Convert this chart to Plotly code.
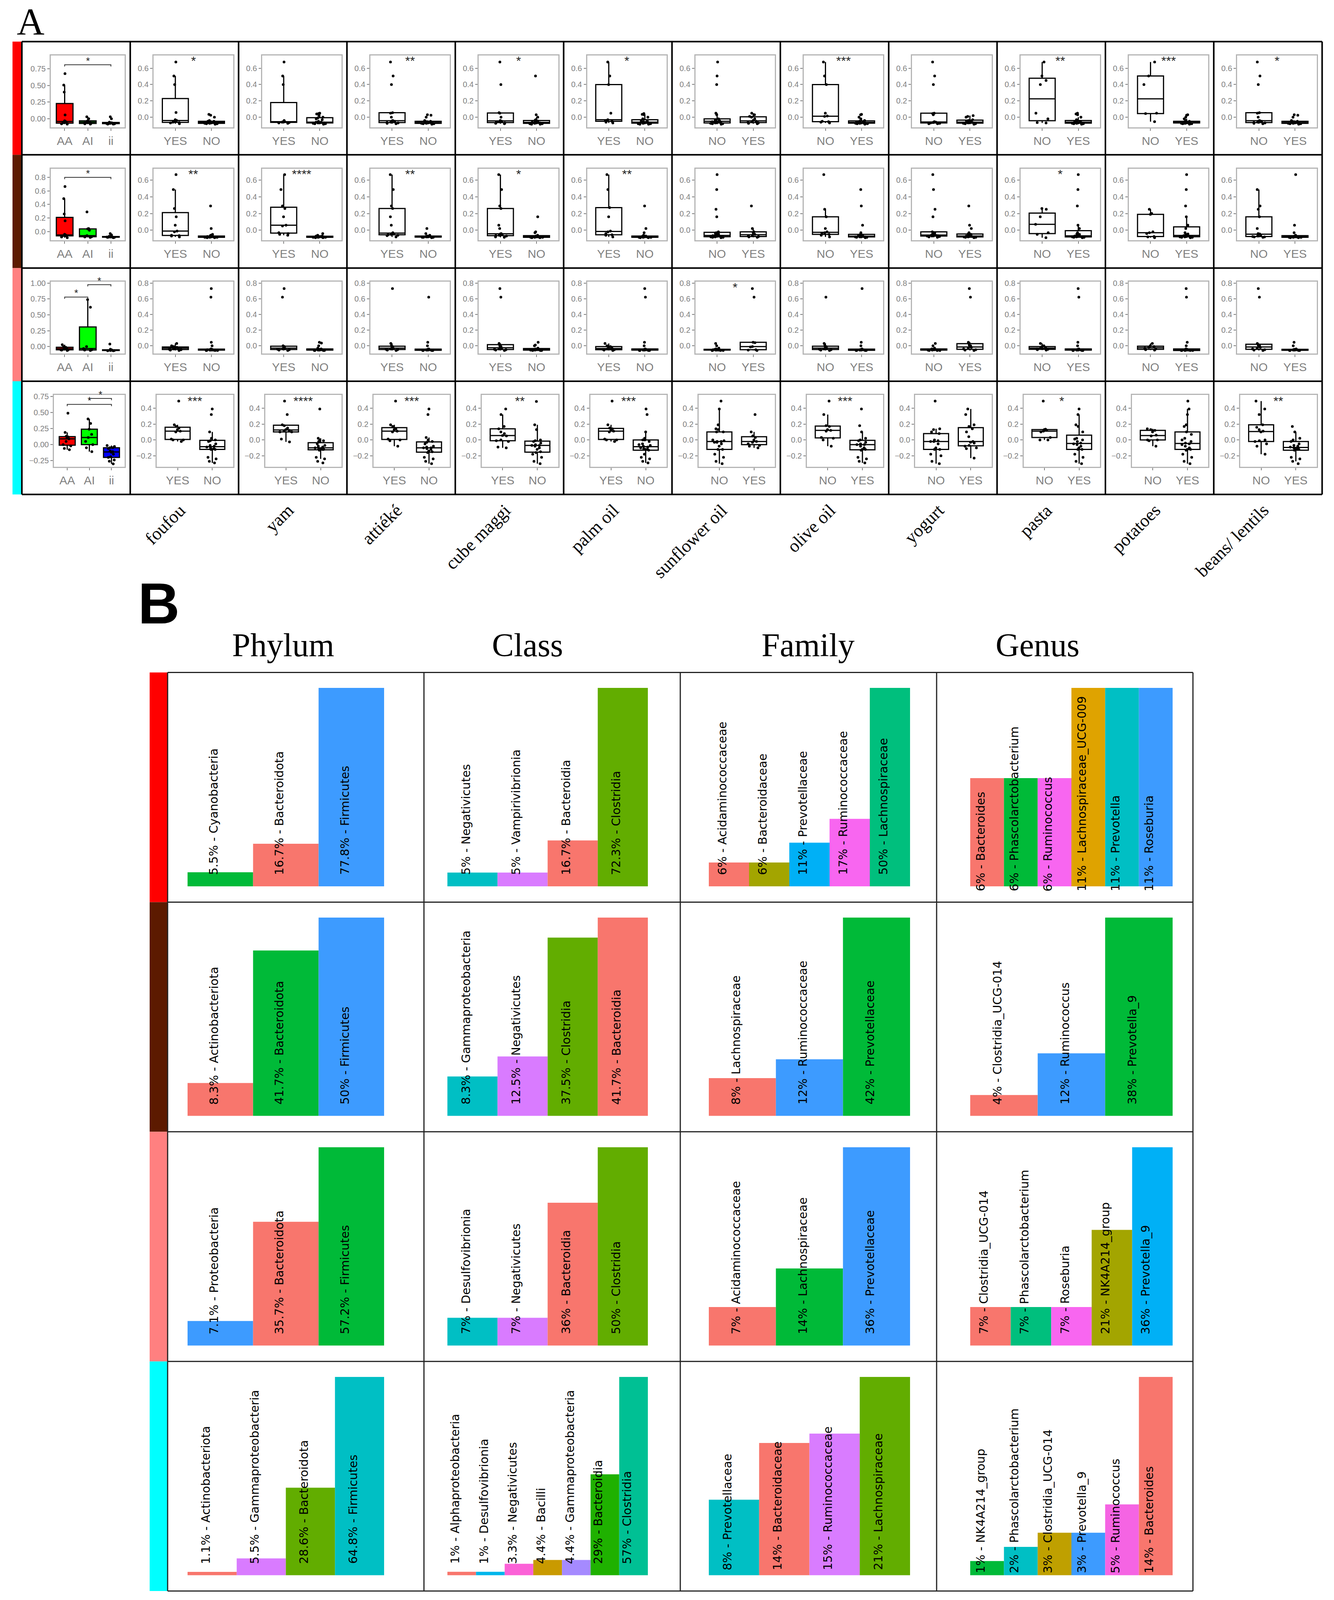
import plotly.graph_objects as go

W, H = 3414, 4654          # layout is measured in reference pixels
PAGE_H = 4096              # visible height of the browser viewport

# ---------------- panel A data ----------------
GENOTYPES = ["AA", "AI", "ii"]
FOODS = ["foufou", "yam", "attiéké", "cube maggi", "palm oil", "sunflower oil",
         "olive oil", "yogurt", "pasta", "potatoes", "beans/ lentils"]
FOOD_GROUPS = [["YES", "NO"], ["YES", "NO"], ["YES", "NO"], ["YES", "NO"], ["YES", "NO"],
               ["NO", "YES"], ["NO", "YES"], ["NO", "YES"], ["NO", "YES"], ["NO", "YES"], ["NO", "YES"]]

# row 1 (red)
R1_AA = [0.676, 0.505, 0.40, 0.058, -0.03, -0.04, -0.05, -0.06, -0.07, -0.075, -0.08]
R1_AI = [0.03, 0.0, -0.03, -0.045, -0.05, -0.06, -0.07, -0.075, -0.08]
R1_II = [0.03, 0.0, -0.05, -0.06, -0.06, -0.065, -0.065, -0.07, -0.07, -0.075, -0.08, -0.08]
R1_FOOD = [
    [[0.676, 0.505, 0.40, 0.058, -0.03, -0.04, -0.05, -0.06, -0.065, -0.07, -0.08],
     [0.035, 0.025, 0.0, -0.04, -0.05, -0.05, -0.055, -0.06, -0.06, -0.065, -0.065, -0.07, -0.07, -0.075, -0.075, -0.08, -0.08, -0.085]],
    [[0.676, 0.505, 0.40, -0.04, -0.05, -0.055, -0.06, -0.06, -0.065, -0.07, -0.075],
     [0.05, 0.045, 0.04, 0.02, 0.0, -0.01, -0.02, -0.03, -0.05, -0.06, -0.06, -0.065, -0.065, -0.07, -0.07, -0.07, -0.075, -0.08, -0.08, -0.085]],
    [[0.676, 0.505, 0.40, 0.055, 0.05, 0.0, -0.04, -0.045, -0.05, -0.06, -0.065, -0.07, -0.075, -0.08],
     [0.03, 0.025, 0.0, -0.04, -0.05, -0.055, -0.06, -0.06, -0.065, -0.065, -0.07, -0.07, -0.075, -0.075, -0.08, -0.08, -0.085]],
    [[0.676, 0.40, 0.055, 0.05, 0.0, -0.04, -0.05, -0.055, -0.06, -0.07, -0.075, -0.08],
     [0.505, 0.03, 0.0, -0.03, -0.04, -0.045, -0.05, -0.055, -0.06, -0.065, -0.065, -0.07, -0.07, -0.075, -0.08, -0.08, -0.085, -0.085]],
    [[0.676, 0.505, 0.40, 0.05, -0.03, -0.04, -0.05, -0.06, -0.07],
     [0.045, 0.035, 0.03, 0.0, -0.02, -0.04, -0.05, -0.055, -0.06, -0.06, -0.065, -0.065, -0.07, -0.07, -0.075, -0.08, -0.08, -0.085, -0.085]],
    [[0.676, 0.505, 0.40, 0.05, 0.03, -0.02, -0.03, -0.04, -0.045, -0.05, -0.05, -0.055, -0.06, -0.06, -0.065, -0.07, -0.07, -0.075, -0.08, -0.08, -0.085],
     [0.05, 0.03, 0.01, 0.0, -0.02, -0.04, -0.05, -0.055, -0.06, -0.07, -0.075, -0.08]],
    [[0.676, 0.505, 0.40, 0.05, 0.015, 0.01, -0.05, -0.055, -0.06, -0.07],
     [0.035, 0.03, 0.0, -0.02, -0.04, -0.05, -0.055, -0.06, -0.06, -0.065, -0.065, -0.07, -0.07, -0.07, -0.075, -0.075, -0.08, -0.08, -0.085, -0.06]],
    [[0.676, 0.505, 0.40, 0.05, 0.045, 0.03, -0.055, -0.06, -0.06, -0.065, -0.07, -0.075, -0.08, -0.08],
     [0.02, 0.01, 0.0, -0.03, -0.04, -0.05, -0.055, -0.06, -0.06, -0.065, -0.07, -0.07, -0.075, -0.08, -0.08, -0.085]],
    [[0.676, 0.505, 0.45, 0.40, 0.05, -0.02, -0.065, -0.07],
     [0.05, 0.04, 0.03, 0.0, -0.03, -0.05, -0.055, -0.06, -0.06, -0.065, -0.065, -0.07, -0.07, -0.075, -0.075, -0.08, -0.08, -0.085, -0.06]],
    [[0.676, 0.505, 0.40, 0.05, 0.045, -0.055],
     [0.03, 0.025, 0.0, -0.02, -0.04, -0.05, -0.055, -0.06, -0.06, -0.065, -0.065, -0.07, -0.07, -0.075, -0.075, -0.08, -0.08, -0.085, -0.06, -0.07, -0.065]],
    [[0.676, 0.505, 0.40, 0.055, 0.05, 0.0, -0.04, -0.045, -0.05, -0.06, -0.065, -0.07, -0.075, -0.08],
     [0.03, 0.025, 0.0, -0.04, -0.05, -0.055, -0.06, -0.06, -0.065, -0.065, -0.07, -0.07, -0.075, -0.075, -0.08, -0.08, -0.085]],
]
R1_STARS = ["*", "", "**", "*", "*", "", "***", "", "**", "***", "*"]

# row 2 (brown)
R2_AA = [0.665, 0.486, 0.26, 0.16, -0.04, -0.05, -0.055, -0.06, -0.065, -0.08, -0.09]
R2_AI = [0.29, 0.045, 0.04, 0.02, -0.06, -0.07, -0.075, -0.08, -0.085]
R2_II = [-0.03, -0.05, -0.07, -0.075, -0.075, -0.08, -0.08, -0.08, -0.085, -0.085, -0.09, -0.08]
R2_FOOD = [
    [[0.665, 0.486, 0.26, 0.16, 0.06, -0.01, -0.02, -0.06, -0.065, -0.07, -0.08],
     [0.29, 0.02, -0.05, -0.06, -0.07, -0.07, -0.075, -0.075, -0.075, -0.08, -0.08, -0.08, -0.08, -0.085, -0.085, -0.085, -0.09, -0.09]],
    [[0.665, 0.486, 0.29, 0.26, 0.16, 0.06, 0.05, -0.03, -0.04, -0.05, -0.06],
     [-0.04, -0.06, -0.07, -0.07, -0.075, -0.075, -0.075, -0.08, -0.08, -0.08, -0.08, -0.085, -0.085, -0.085, -0.09, -0.09]],
    [[0.665, 0.486, 0.29, 0.26, 0.16, 0.06, -0.03, -0.04, -0.045, -0.05, -0.055, -0.06, -0.065, -0.08],
     [0.02, -0.04, -0.06, -0.07, -0.07, -0.075, -0.075, -0.075, -0.08, -0.08, -0.08, -0.085, -0.085, -0.085, -0.09]],
    [[0.665, 0.486, 0.29, 0.26, 0.06, 0.02, -0.04, -0.045, -0.05, -0.06, -0.065, -0.07, -0.08, -0.085],
     [0.16, -0.02, -0.03, -0.06, -0.07, -0.075, -0.075, -0.075, -0.08, -0.08, -0.08, -0.085, -0.085, -0.085, -0.09, -0.09]],
    [[0.665, 0.486, 0.27, 0.16, -0.01, -0.02, -0.04, -0.055, -0.06, -0.08],
     [0.29, 0.02, -0.03, -0.06, -0.07, -0.07, -0.075, -0.075, -0.075, -0.08, -0.08, -0.08, -0.085, -0.085, -0.085, -0.09, -0.09]],
    [[0.665, 0.486, 0.25, 0.16, -0.02, -0.03, -0.04, -0.045, -0.05, -0.06, -0.065, -0.065, -0.07, -0.07, -0.075, -0.08, -0.08, -0.085, -0.085, -0.09],
     [0.29, 0.02, -0.02, -0.03, -0.05, -0.06, -0.065, -0.075, -0.08, -0.085]],
    [[0.665, 0.25, 0.16, 0.02, -0.02, -0.03, -0.04, -0.05, -0.06, -0.08],
     [0.486, 0.29, 0.06, -0.03, -0.05, -0.06, -0.065, -0.07, -0.07, -0.075, -0.075, -0.08, -0.08, -0.08, -0.08, -0.085, -0.085, -0.09]],
    [[0.665, 0.486, 0.25, 0.16, -0.02, -0.03, -0.04, -0.05, -0.055, -0.06, -0.06, -0.065, -0.065, -0.07, -0.07, -0.075, -0.08, -0.085],
     [0.29, 0.06, 0.02, -0.03, -0.045, -0.05, -0.06, -0.065, -0.07, -0.07, -0.075, -0.075, -0.08, -0.08, -0.08, -0.085, -0.085, -0.09]],
    [[0.26, 0.25, 0.16, 0.07, -0.03, -0.05, -0.09],
     [0.665, 0.486, 0.29, 0.06, 0.02, -0.03, -0.045, -0.05, -0.06, -0.065, -0.07, -0.07, -0.075, -0.075, -0.08, -0.08, -0.08, -0.085, -0.085, -0.09]],
    [[0.25, 0.2, 0.19, -0.02, -0.03, -0.04, -0.075, -0.08, -0.09],
     [0.665, 0.486, 0.29, 0.16, 0.06, 0.02, -0.03, -0.045, -0.05, -0.06, -0.065, -0.07, -0.07, -0.075, -0.075, -0.08, -0.08, -0.085, -0.085, -0.09]],
    [[0.486, 0.29, 0.25, 0.16, 0.02, -0.04, -0.045, -0.05, -0.06, -0.07, -0.075, -0.08, -0.08, -0.085],
     [0.665, 0.06, -0.03, -0.06, -0.07, -0.075, -0.075, -0.075, -0.08, -0.08, -0.08, -0.085, -0.085, -0.085, -0.09, -0.09]],
]
R2_STARS = ["**", "****", "**", "*", "**", "", "", "", "*", "", ""]

# row 3 (salmon)
R3_AA = [0.03, 0.0, -0.01, -0.02, -0.03, -0.04, -0.05, -0.05, -0.055, -0.06]
R3_AI = [0.74, 0.62, 0.0, -0.03, -0.05, -0.055, -0.06]
R3_II = [0.04, -0.04, -0.05, -0.055, -0.055, -0.06, -0.06, -0.06, -0.065, -0.065]
R3_FOOD = [
    [[0.03, 0.0, -0.01, -0.02, -0.03, -0.03, -0.04, -0.045, -0.05, -0.055, -0.06],
     [0.73, 0.62, 0.045, 0.0, -0.04, -0.045, -0.045, -0.05, -0.05, -0.05, -0.05, -0.055, -0.055, -0.055, -0.055, -0.06, -0.06, -0.06, -0.06]],
    [[0.73, 0.62, 0.0, -0.01, -0.02, -0.03, -0.04, -0.045, -0.05, -0.055, -0.06],
     [0.045, 0.035, 0.0, -0.03, -0.04, -0.045, -0.045, -0.05, -0.05, -0.05, -0.055, -0.055, -0.055, -0.06, -0.06, -0.06, -0.06]],
    [[0.73, 0.03, 0.0, -0.01, -0.02, -0.03, -0.04, -0.045, -0.05, -0.055, -0.06],
     [0.62, 0.045, 0.0, -0.04, -0.045, -0.045, -0.05, -0.05, -0.05, -0.055, -0.055, -0.055, -0.06, -0.06, -0.06, -0.06]],
    [[0.73, 0.62, 0.03, 0.0, -0.01, -0.02, -0.03, -0.04, -0.045, -0.05, -0.055, -0.06],
     [0.045, 0.01, 0.0, -0.03, -0.04, -0.045, -0.045, -0.05, -0.05, -0.05, -0.055, -0.055, -0.055, -0.06, -0.06, -0.06]],
    [[0.03, 0.0, -0.01, -0.02, -0.03, -0.04, -0.045, -0.05, -0.055, -0.06],
     [0.73, 0.62, 0.045, 0.0, -0.04, -0.045, -0.045, -0.05, -0.05, -0.05, -0.055, -0.055, -0.055, -0.06, -0.06, -0.06, -0.06]],
    [[0.03, 0.0, -0.03, -0.04, -0.045, -0.045, -0.05, -0.05, -0.05, -0.05, -0.055, -0.055, -0.055, -0.055, -0.06, -0.06, -0.06, -0.06],
     [0.73, 0.62, 0.045, 0.04, -0.01, -0.015, -0.05, -0.055, -0.06]],
    [[0.62, 0.03, 0.0, -0.01, -0.02, -0.03, -0.04, -0.045, -0.05, -0.055, -0.06],
     [0.73, 0.045, 0.0, -0.04, -0.045, -0.045, -0.05, -0.05, -0.05, -0.055, -0.055, -0.055, -0.06, -0.06, -0.06, -0.06]],
    [[0.03, 0.0, -0.03, -0.04, -0.045, -0.05, -0.05, -0.05, -0.055, -0.055, -0.06, -0.06, -0.06],
     [0.73, 0.62, 0.045, 0.01, 0.0, -0.01, -0.02, -0.03, -0.04, -0.05, -0.055, -0.06]],
    [[0.03, 0.0, -0.01, -0.02, -0.03, -0.04, -0.045, -0.05, -0.055],
     [0.73, 0.62, 0.045, 0.0, -0.04, -0.045, -0.045, -0.05, -0.05, -0.05, -0.055, -0.055, -0.055, -0.06, -0.06, -0.06, -0.06]],
    [[0.03, 0.0, -0.01, -0.02, -0.03, -0.04, -0.05, -0.055],
     [0.73, 0.62, 0.045, 0.0, -0.04, -0.045, -0.045, -0.05, -0.05, -0.05, -0.055, -0.055, -0.055, -0.06, -0.06, -0.06, -0.06, -0.06]],
    [[0.73, 0.62, 0.03, 0.01, 0.0, -0.01, -0.02, -0.03, -0.04, -0.05, -0.055, -0.06],
     [0.045, 0.0, -0.04, -0.045, -0.045, -0.05, -0.05, -0.05, -0.055, -0.055, -0.055, -0.06, -0.06, -0.06, -0.06]],
]
R3_STARS = ["", "", "", "", "", "*", "", "", "", "", ""]

# row 4 (cyan)
R4_AA = [0.49, 0.19, 0.13, 0.12, 0.1, 0.09, 0.05, 0.0, -0.02, -0.06, -0.08]
R4_AI = [0.40, 0.33, 0.24, 0.16, 0.11, 0.05, 0.0, -0.05, -0.11]
R4_II = [-0.015, -0.03, -0.05, -0.05, -0.06, -0.10, -0.11, -0.12, -0.15, -0.19, -0.2, -0.24, -0.26, -0.30]
R4_FOOD = [
    [[0.49, 0.19, 0.17, 0.15, 0.13, 0.11, 0.10, 0.01, 0.0, 0.0, -0.02],
     [0.39, 0.32, 0.10, 0.02, 0.0, -0.01, -0.02, -0.05, -0.07, -0.08, -0.09, -0.10, -0.11, -0.12, -0.12, -0.12, -0.22, -0.24, -0.27, -0.29]],
    [[0.49, 0.32, 0.19, 0.18, 0.15, 0.13, 0.12, 0.11, 0.10, 0.10, 0.01, -0.025],
     [0.39, 0.02, 0.0, -0.01, -0.02, -0.05, -0.07, -0.08, -0.09, -0.10, -0.11, -0.12, -0.12, -0.12, -0.13, -0.22, -0.24, -0.27, -0.29]],
    [[0.49, 0.19, 0.17, 0.14, 0.13, 0.11, 0.10, 0.01, 0.0, -0.01, -0.08],
     [0.39, 0.32, 0.03, 0.0, -0.02, -0.03, -0.05, -0.08, -0.09, -0.10, -0.10, -0.11, -0.12, -0.14, -0.15, -0.16, -0.22, -0.24, -0.27, -0.30]],
    [[0.39, 0.32, 0.17, 0.14, 0.10, 0.08, 0.055, 0.05, 0.0, -0.01, -0.02, -0.09, -0.10],
     [0.485, 0.19, 0.13, 0.0, -0.01, -0.02, -0.04, -0.06, -0.07, -0.07, -0.08, -0.10, -0.12, -0.15, -0.16, -0.18, -0.22, -0.27, -0.30]],
    [[0.49, 0.19, 0.15, 0.14, 0.12, 0.11, 0.10, 0.01, 0.0, 0.0, -0.02],
     [0.39, 0.32, 0.10, 0.02, 0.0, 0.0, -0.02, -0.05, -0.06, -0.07, -0.08, -0.09, -0.10, -0.11, -0.12, -0.12, -0.13, -0.18, -0.22, -0.24, -0.27, -0.29]],
    [[0.49, 0.39, 0.19, 0.14, 0.13, 0.10, 0.10, 0.0, -0.01, -0.02, -0.03, -0.05, -0.08, -0.12, -0.12, -0.18, -0.22, -0.27, -0.30, -0.03, -0.02],
     [0.32, 0.10, 0.05, 0.03, 0.0, -0.02, -0.03, -0.05, -0.07, -0.08, -0.10]],
    [[0.49, 0.32, 0.18, 0.17, 0.13, 0.12, 0.11, 0.03, 0.02, 0.0, -0.08],
     [0.39, 0.18, 0.10, 0.02, 0.0, -0.01, -0.03, -0.05, -0.06, -0.06, -0.08, -0.10, -0.12, -0.12, -0.13, -0.22, -0.24, -0.27, -0.29]],
    [[0.49, 0.14, 0.13, 0.10, 0.08, 0.0, -0.01, -0.02, -0.02, -0.05, -0.10, -0.12, -0.12, -0.18, -0.2, -0.27, -0.30],
     [0.39, 0.32, 0.19, 0.17, 0.14, 0.10, 0.04, -0.02, -0.03, -0.04, -0.07, -0.08, -0.10, -0.11, -0.23]],
    [[0.49, 0.135, 0.13, 0.12, 0.11, 0.10, 0.03, 0.0, 0.0],
     [0.39, 0.32, 0.19, 0.17, 0.10, 0.02, 0.01, 0.0, -0.02, -0.04, -0.05, -0.06, -0.08, -0.10, -0.12, -0.12, -0.18, -0.22, -0.27, -0.30]],
    [[0.14, 0.13, 0.12, 0.10, 0.06, 0.05, 0.0, 0.0, -0.01, -0.08],
     [0.49, 0.39, 0.32, 0.19, 0.17, 0.10, 0.07, 0.02, 0.0, -0.02, -0.04, -0.05, -0.06, -0.08, -0.10, -0.12, -0.12, -0.13, -0.18, -0.22, -0.27, -0.30]],
    [[0.49, 0.39, 0.32, 0.19, 0.16, 0.13, 0.11, 0.10, 0.0, -0.01, -0.02, -0.05, -0.08, -0.18],
     [0.17, 0.10, 0.02, 0.0, -0.02, -0.05, -0.07, -0.08, -0.09, -0.10, -0.11, -0.12, -0.12, -0.13, -0.22, -0.24, -0.27, -0.30]],
]
R4_STARS = ["***", "****", "***", "**", "***", "", "***", "", "*", "", "**"]

# genotype comparisons: (group a, group b, label)
R1_BRACKETS = [(0, 2, "*")]
R2_BRACKETS = [(0, 2, "*")]
R3_BRACKETS = [(0, 1, "*"), (1, 2, "*")]
R4_BRACKETS = [(1, 2, "*"), (0, 2, "*")]

# ---------------- panel B data ----------------
RANK_TITLES = ["Phylum", "Class", "Family", "Genus"]
PHYLUM_VALUES = [[5.5, 16.7, 77.8], [8.3, 41.7, 50], [7.1, 35.7, 57.2], [1.1, 5.5, 28.6, 64.8]]
PHYLUM_TAXA = [["Cyanobacteria", "Bacteroidota", "Firmicutes"],
               ["Actinobacteriota", "Bacteroidota", "Firmicutes"],
               ["Proteobacteria", "Bacteroidota", "Firmicutes"],
               ["Actinobacteriota", "Gammaproteobacteria", "Bacteroidota", "Firmicutes"]]
CLASS_VALUES = [[5, 5, 16.7, 72.3], [8.3, 12.5, 37.5, 41.7], [7, 7, 36, 50], [1, 1, 3.3, 4.4, 4.4, 29, 57]]
CLASS_TAXA = [["Negativicutes", "Vampirivibrionia", "Bacteroidia", "Clostridia"],
              ["Gammaproteobacteria", "Negativicutes", "Clostridia", "Bacteroidia"],
              ["Desulfovibrionia", "Negativicutes", "Bacteroidia", "Clostridia"],
              ["Alphaproteobacteria", "Desulfovibrionia", "Negativicutes", "Bacilli",
               "Gammaproteobacteria", "Bacteroidia", "Clostridia"]]
FAMILY_VALUES = [[6, 6, 11, 17, 50], [8, 12, 42], [7, 14, 36], [8, 14, 15, 21]]
FAMILY_TAXA = [["Acidaminococcaceae", "Bacteroidaceae", "Prevotellaceae", "Ruminococcaceae", "Lachnospiraceae"],
               ["Lachnospiraceae", "Ruminococcaceae", "Prevotellaceae"],
               ["Acidaminococcaceae", "Lachnospiraceae", "Prevotellaceae"],
               ["Prevotellaceae", "Bacteroidaceae", "Ruminococcaceae", "Lachnospiraceae"]]
GENUS_VALUES = [[6, 6, 6, 11, 11, 11], [4, 12, 38], [7, 7, 7, 21, 36], [1, 2, 3, 3, 5, 14]]
GENUS_TAXA = [["Bacteroides", "Phascolarctobacterium", "Ruminococcus", "Lachnospiraceae_UCG-009", "Prevotella", "Roseburia"],
              ["Clostridia_UCG-014", "Ruminococcus", "Prevotella_9"],
              ["Clostridia_UCG-014", "Phascolarctobacterium", "Roseburia", "NK4A214_group", "Prevotella_9"],
              ["NK4A214_group", "Phascolarctobacterium", "Clostridia_UCG-014", "Prevotella_9", "Ruminococcus", "Bacteroides"]]

# ---------------- styles ----------------
SAL, GRN, BLU, CYN = "#F8766D", "#00BA38", "#3D9BFF", "#00BFC4"
PUR, OLV, TEA, SKY, PNK, KHK = "#D97BFF", "#62AD00", "#00BF7D", "#00B0F6", "#F866F0", "#A3A500"
PHYLUM_COLORS = [[GRN, SAL, BLU], [SAL, GRN, BLU], [BLU, SAL, GRN], [SAL, PUR, OLV, CYN]]
CLASS_COLORS = [[CYN, PUR, SAL, OLV], [CYN, PUR, OLV, SAL], [CYN, PUR, SAL, OLV],
                [SAL, "#00B6EB", "#FB61D7", "#C99A00", "#A58AFF", "#1FB100", "#00C094"]]
FAMILY_COLORS = [[SAL, KHK, SKY, PNK, TEA], [SAL, BLU, GRN], [SAL, GRN, BLU], [CYN, SAL, "#D97CFF", OLV]]
GENUS_COLORS = [[SAL, GRN, PNK, "#DFA300", CYN, BLU], [SAL, BLU, GRN], [SAL, TEA, PNK, KHK, SKY],
                [GRN, CYN, "#BFA000", BLU, "#F564E3", SAL]]

ROW_COLORS = ["#FF0000", "#5C1A00", "#FF8080", "#00FFFF"]
GENO_FILLS = ["#FF0000", "#00FF00", "#0000FF"]
GREY = "#808080"

# y axis set-up per row -> (range, ticks, format)
Y_GENO = [([-0.126, 0.95], [0, 0.25, 0.5, 0.75], ".2f"),
          ([-0.13, 0.93], [0, 0.2, 0.4, 0.6, 0.8], ".1f"),
          ([-0.11, 1.02], [0, 0.25, 0.5, 0.75, 1.0], ".2f"),
          ([-0.347, 0.774], [-0.25, 0, 0.25, 0.5, 0.75], ".2f")]
Y_FOOD = [([-0.122, 0.757], [0, 0.2, 0.4, 0.6], ".1f"),
          ([-0.122, 0.737], [0, 0.2, 0.4, 0.6], ".1f"),
          ([-0.10, 0.817], [0, 0.2, 0.4, 0.6, 0.8], ".1f"),
          ([-0.34, 0.567], [-0.2, 0, 0.2, 0.4], ".1f")]
STAR_Y = [0.69, 0.67, 0.745, 0.49]
BRACKET_Y = [[0.81], [0.80], [0.78, 0.975], [0.72, 0.627]]

ROWS = [
    dict(geno=[R1_AA, R1_AI, R1_II], food=R1_FOOD, stars=R1_STARS, brackets=R1_BRACKETS),
    dict(geno=[R2_AA, R2_AI, R2_II], food=R2_FOOD, stars=R2_STARS, brackets=R2_BRACKETS),
    dict(geno=[R3_AA, R3_AI, R3_II], food=R3_FOOD, stars=R3_STARS, brackets=R3_BRACKETS),
    dict(geno=[R4_AA, R4_AI, R4_II], food=R4_FOOD, stars=R4_STARS, brackets=R4_BRACKETS),
]
RANKS = [(PHYLUM_VALUES, PHYLUM_TAXA, PHYLUM_COLORS), (CLASS_VALUES, CLASS_TAXA, CLASS_COLORS),
         (FAMILY_VALUES, FAMILY_TAXA, FAMILY_COLORS), (GENUS_VALUES, GENUS_TAXA, GENUS_COLORS)]


def px(x):
    return x / W


def py(y):
    return 1 - y / H


def names(k):
    s = "" if k == 1 else str(k)
    return "x" + s, "y" + s, "xaxis" + s, "yaxis" + s


def paper_text(x, y, text, size, family, **kw):
    d = dict(x=px(x), y=py(y), xref="paper", yref="paper", text=text, showarrow=False,
             xanchor="center", yanchor="middle", font=dict(family=family, size=size, color="black"))
    d.update(kw)
    return d


fig = go.Figure()
layout = {}
annotations = []
shapes = []
k = 0

# ---------------- panel A ----------------
A_X0, A_COLW, A_Y0, A_ROWH = 56, 277.3, 121, 329.3

for r, row in enumerate(ROWS):
    top = A_Y0 + r * A_ROWH
    for c in range(12):
        k += 1
        xa, ya, xk, yk = names(k)
        cell_l = A_X0 + c * A_COLW
        inset = (74 if c == 0 else 60) + (8 if r == 3 else 0)
        if c == 0:
            groups, labels, fills = row["geno"], GENOTYPES, GENO_FILLS
            yr, yt, yf = Y_GENO[r]
        else:
            groups, labels, fills = row["food"][c - 1], FOOD_GROUPS[c - 1], ["white", "white"]
            yr, yt, yf = Y_FOOD[r]
        n = len(groups)
        for gi, vals in enumerate(groups):
            fig.add_trace(go.Box(
                y=vals, x0=gi, xaxis=xa, yaxis=ya, width=0.72, quartilemethod="inclusive",
                boxpoints="all", jitter=0.6, pointpos=0,
                marker=dict(color="black", size=7),
                line=dict(color="black", width=3), fillcolor=fills[gi],
                whiskerwidth=0, showlegend=False, hoverinfo="skip"))
        axis_common = dict(showline=True, mirror=True, linecolor="#B5B5B5", linewidth=3,
                           showgrid=False, zeroline=False, ticks="outside", ticklen=6,
                           tickwidth=2, tickcolor=GREY, fixedrange=True)
        layout[xk] = dict(axis_common, domain=[px(cell_l + inset), px(cell_l + A_COLW - 14)],
                          range=[-0.6, n - 0.4], tickvals=list(range(n)), ticktext=labels,
                          tickfont=dict(family="Liberation Sans", size=30, color=GREY), anchor=ya)
        layout[yk] = dict(axis_common, domain=[py(top + 249), py(top + 40)],
                          range=yr, tickvals=yt, tickformat=yf,
                          tickfont=dict(family="Liberation Sans", size=20, color=GREY), anchor=xa)
        if c == 0:
            for (a, b, lab), yb in zip(row["brackets"], BRACKET_Y[r]):
                d = 0.025 * (yr[1] - yr[0])
                shapes.append(dict(type="path", xref=xa, yref=ya,
                                   path=f"M {a},{yb - d} L {a},{yb} L {b},{yb} L {b},{yb - d}",
                                   line=dict(color="#333333", width=2)))
                annotations.append(dict(x=(a + b) / 2, y=yb, xref=xa, yref=ya, text=lab,
                                        showarrow=False, xanchor="center", yanchor="bottom", yshift=-7,
                                        font=dict(size=26, color="#222222")))
        elif row["stars"][c - 1]:
            annotations.append(dict(x=0.5, y=STAR_Y[r], xref=xa, yref=ya, text=row["stars"][c - 1],
                                    showarrow=False, xanchor="center", yanchor="middle",
                                    font=dict(family="Liberation Sans", size=32, color="#222222")))
    shapes.append(dict(type="rect", xref="paper", yref="paper", x0=px(32), x1=px(A_X0),
                       y0=py(top + A_ROWH), y1=py(top), fillcolor=ROW_COLORS[r], line=dict(width=0)))

for c in range(13):
    x = A_X0 + c * A_COLW
    shapes.append(dict(type="line", xref="paper", yref="paper", x0=px(x), x1=px(x),
                       y0=py(A_Y0), y1=py(A_Y0 + 4 * A_ROWH), line=dict(color="black", width=4)))
for r in range(5):
    y = A_Y0 + r * A_ROWH
    shapes.append(dict(type="line", xref="paper", yref="paper", x0=px(A_X0), x1=px(A_X0 + 12 * A_COLW),
                       y0=py(y), y1=py(y), line=dict(color="black", width=4)))

for c, food in enumerate(FOODS):
    annotations.append(paper_text(A_X0 + (c + 1.5) * A_COLW + 15, 1452, food, 46, "Liberation Serif",
                                  textangle=-45, xanchor="right", yanchor="top"))

annotations.append(paper_text(78, 62, "A", 98, "Liberation Serif"))

# ---------------- panel B ----------------
B_X0, B_COLW, B_Y0, B_ROWH = 429, 656, 1956, 668
BAR_INSET = [51, 60, 73, 86]
BAR_WIDTH = [503, 513, 515, 518]
HEADER_X = [724, 1350, 2068, 2655]
LABEL_SHIFT = {(0, 3): -15, (3, 2): 11, (3, 3): 3}

for r in range(4):
    rtop = B_Y0 + r * B_ROWH
    for c, (vals_all, taxa_all, cols_all) in enumerate(RANKS):
        k += 1
        xa, ya, xk, yk = names(k)
        vals, taxa = vals_all[r], taxa_all[r]
        n = len(vals)
        left = B_X0 + c * B_COLW + BAR_INSET[c]
        layout[xk] = dict(domain=[px(left), px(left + BAR_WIDTH[c])], range=[-0.5, n - 0.5],
                          visible=False, fixedrange=True, anchor=ya)
        layout[yk] = dict(domain=[py(rtop + 622), py(rtop + 45)], range=[0, max(vals)],
                          visible=False, fixedrange=True, anchor=xa)
        fig.add_trace(go.Bar(x=list(range(n)), y=vals, width=1, xaxis=xa, yaxis=ya,
                             marker=dict(color=cols_all[r], line=dict(width=0)),
                             showlegend=False, hoverinfo="skip"))
        for i, (v, t) in enumerate(zip(vals, taxa)):
            annotations.append(dict(x=i, y=0, xref=xa, yref=ya, text=f"{v:g}% - {t}", textangle=-90,
                                    showarrow=False, xanchor="center", yanchor="bottom", xshift=-17,
                                    yshift=LABEL_SHIFT.get((r, c), 27),
                                    font=dict(family="DejaVu Sans", size=30, color="black")))
    shapes.append(dict(type="rect", xref="paper", yref="paper", x0=px(383), x1=px(B_X0),
                       y0=py(rtop + B_ROWH), y1=py(rtop), fillcolor=ROW_COLORS[r], line=dict(width=0)))

for c in range(5):
    x = B_X0 + c * B_COLW
    shapes.append(dict(type="line", xref="paper", yref="paper", x0=px(x), x1=px(x),
                       y0=py(B_Y0), y1=py(B_Y0 + 4 * B_ROWH), line=dict(color="#222222", width=3)))
for r in range(5):
    y = B_Y0 + r * B_ROWH
    shapes.append(dict(type="line", xref="paper", yref="paper", x0=px(B_X0), x1=px(B_X0 + 4 * B_COLW),
                       y0=py(y), y1=py(y), line=dict(color="#222222", width=3)))

for title, hx in zip(RANK_TITLES, HEADER_X):
    annotations.append(paper_text(hx, 1876, title, 84, "Liberation Serif"))

annotations.append(paper_text(406, 1755, "<b>B</b>", 148, "Liberation Sans"))

fig.update_layout(
    width=W, height=PAGE_H, margin=dict(l=0, r=0, t=0, b=0, autoexpand=False),
    paper_bgcolor="white", plot_bgcolor="white",
    font=dict(family="Liberation Sans"),
    showlegend=False, annotations=annotations, shapes=shapes,
    **layout,
)

# no page margin; follow the real viewport size if it differs
FIT_JS = """
document.body.style.margin = '0';
document.body.style.overflow = 'hidden';
var gd = document.getElementById('{plot_id}');
if (Math.abs(window.innerHeight - %d) > 4 || Math.abs(window.innerWidth - %d) > 4) {
    Plotly.relayout(gd, {width: window.innerWidth, height: window.innerHeight});
}
""" % (PAGE_H, W)

fig.write_html("out.html", post_script=FIT_JS, config={"displayModeBar": False})
